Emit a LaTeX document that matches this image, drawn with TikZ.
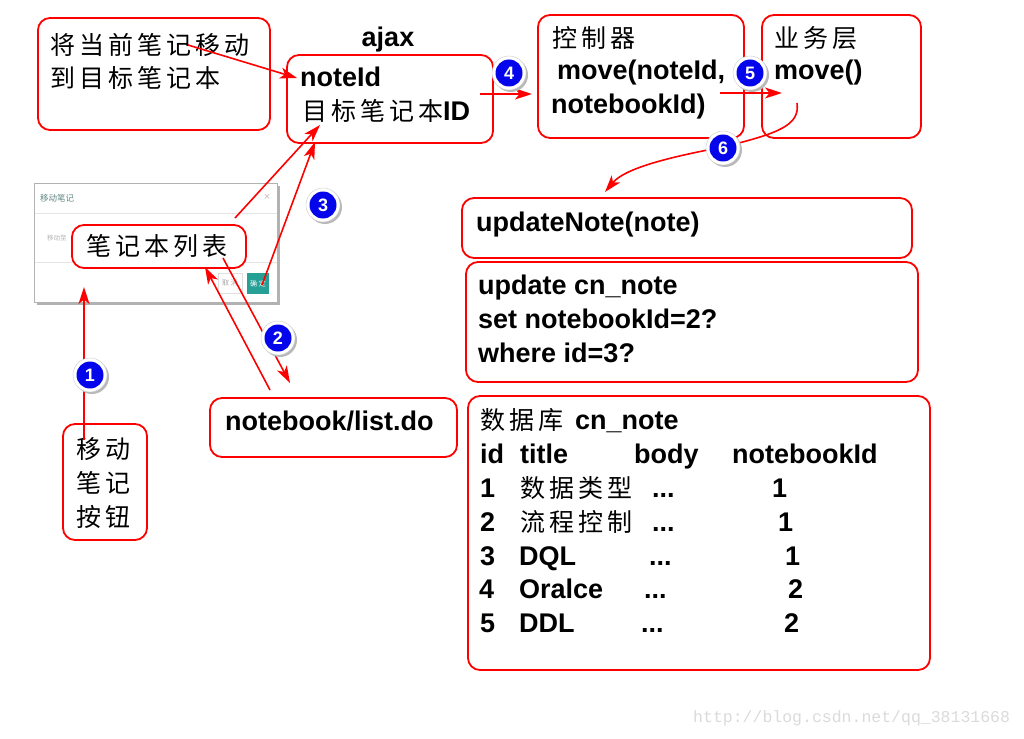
\documentclass[tikz,border=0pt]{standalone}
\usepackage{fontspec}
\setmainfont{Liberation Sans}
\newfontfamily\cjk[LetterSpace=16]{Noto Sans CJK SC}
\newfontfamily\cjkplain{Noto Sans CJK SC}
\newfontfamily\wmfont{Liberation Mono}
\usetikzlibrary{arrows.meta,calc}
\definecolor{dlgteal}{RGB}{38,160,150}
\definecolor{dlgtitle}{RGB}{95,135,130}
\definecolor{badgeblue}{RGB}{5,5,235}
\newcommand\numbadge[3]{%
  \fill[gray!55] ($(#2)+(2,2)$) circle[radius=17];
  \fill[white] (#2) circle[radius=17];
  \draw[gray!40,line width=0.4pt] (#2) circle[radius=17];
  \node[badge] (#1) at (#2) {#3};}
\begin{document}
\begin{tikzpicture}[x=1pt,y=-1pt,
  box/.style={draw=red,line width=1.8pt,rounded corners=12pt,inner sep=0pt},
  txt/.style={anchor=base west,inner sep=0pt,font=\fontsize{27}{30}\selectfont\bfseries},
  ctxt/.style={anchor=base west,inner sep=0pt,font=\fontsize{25}{30}\selectfont\cjk},
  arr/.style={red,line width=1.6pt,-{Stealth[length=17pt,width=11pt,inset=4.5pt]}},
  badge/.style={circle,fill=badgeblue,minimum size=27pt,inner sep=0pt,text=white,font=\fontsize{18}{18}\selectfont\bfseries}]
\useasboundingbox (0,0) rectangle (1024,738);
\fill[white] (0,0) rectangle (1024,738);

% dialog screenshot
\fill[gray!60] (36.5,185.5) rectangle (279.5,304.5);
\node[draw=gray!60,fill=white,line width=0.8pt,minimum width=243pt,minimum height=119pt,inner sep=0pt] (dlg) at (155.5,242.5) {};
\node[anchor=west,inner sep=0pt,text=dlgtitle,font=\fontsize{8.5}{8.5}\selectfont\cjkplain] (dlgt) at (40,198) {移动笔记};
\node[inner sep=0pt,text=gray!50,font=\fontsize{11}{11}\selectfont] (dlgx) at (267,197) {×};
\draw[gray!20,line width=0.8pt] (34.5,213) -- (276.5,213);
\draw[gray!20,line width=0.8pt] (34.5,262) -- (276.5,262);
\node[anchor=west,inner sep=0pt,text=gray!60,font=\fontsize{6.5}{6.5}\selectfont\cjkplain] (dlgm) at (47,238) {移动至};
\node[draw=gray!25,fill=white,minimum width=24pt,minimum height=20pt,inner sep=0pt,text=gray!70,font=\fontsize{7}{7}\selectfont\cjkplain] (cancel) at (230,283) {取 消};
\node[fill=dlgteal,minimum width=22pt,minimum height=21pt,inner sep=0pt,text=white,font=\fontsize{7}{7}\selectfont\cjkplain] (ok) at (258,283.5) {确 定};

% boxes
\node[box,minimum width=232pt,minimum height=112pt] (A) at (154,74) {};
\node[box,minimum width=206pt,minimum height=88pt] (B) at (390,99) {};
\node[box,minimum width=206pt,minimum height=123pt] (C) at (641,76.5) {};
\node[box,minimum width=159pt,minimum height=123pt] (D) at (841.5,76.5) {};
\node[box,minimum width=450pt,minimum height=60pt] (E) at (687,228) {};
\node[box,minimum width=452pt,minimum height=120pt] (F) at (692,322) {};
\node[box,minimum width=247pt,minimum height=59pt] (G) at (333.5,427.5) {};
\node[box,minimum width=462pt,minimum height=274pt] (H) at (699,533) {};
\node[box,minimum width=84pt,minimum height=116pt] (I) at (105,482) {};
\node[box,fill=white,minimum width=174pt,minimum height=43pt] (J) at (159,246.5) {};

% texts
\node[ctxt] (a1t) at (50,54.5) {将当前笔记移动};
\node[ctxt] (a2t) at (50,87.5) {到目标笔记本};
\node[txt,anchor=base] (ajax) at (388,47) {ajax};
\node[txt] (b1t) at (300,87) {noteId};
\node[txt] (b2t) at (302,121) {{\cjk\mdseries\fontsize{25}{30}\selectfont 目标笔记本}ID};
\node[ctxt] (c1t) at (552,48) {控制器};
\node[txt] (c2t) at (557,80) {move(noteId,};
\node[txt] (c3t) at (551,114) {notebookId)};
\node[ctxt] (d1t) at (774,48) {业务层};
\node[txt] (d2t) at (774,80) {move()};
\node[txt] (e1t) at (476,231) {updateNote(note)};
\node[txt] (f1t) at (478,294) {update cn\_note};
\node[txt] (f2t) at (478,328) {set notebookId=2?};
\node[txt] (f3t) at (478,362) {where id=3?};
\node[txt] (g1t) at (225,430) {notebook/list.do};
\node[ctxt] (i1t) at (76,458.5) {移动};
\node[ctxt] (i2t) at (76,492.5) {笔记};
\node[ctxt] (i3t) at (76,526.5) {按钮};
\node[ctxt,anchor=center] (j1t) at (157,246) {笔记本列表};

% database table
\node[ctxt] (h0a) at (480,429) {数据库};
\node[txt] (h0b) at (575,429) {cn\_note};
\node[txt] (h1a) at (480,463) {id};
\node[txt] (h1b) at (520,463) {title};
\node[txt] (h1c) at (634,463) {body};
\node[txt] (h1d) at (732,463) {notebookId};
\node[txt] (r1a) at (480,497) {1};
\node[ctxt] (r1b) at (520,497) {数据类型};
\node[txt] (r1c) at (652,497) {...};
\node[txt] (r1d) at (772,497) {1};
\node[txt] (r2a) at (480,531) {2};
\node[ctxt] (r2b) at (520,531) {流程控制};
\node[txt] (r2c) at (652,531) {...};
\node[txt] (r2d) at (778,531) {1};
\node[txt] (r3a) at (480,565) {3};
\node[txt] (r3b) at (519,565) {DQL};
\node[txt] (r3c) at (649,565) {...};
\node[txt] (r3d) at (785,565) {1};
\node[txt] (r4a) at (479,598) {4};
\node[txt] (r4b) at (519,598) {Oralce};
\node[txt] (r4c) at (644,598) {...};
\node[txt] (r4d) at (788,598) {2};
\node[txt] (r5a) at (480,632) {5};
\node[txt] (r5b) at (519,632) {DDL};
\node[txt] (r5c) at (641,632) {...};
\node[txt] (r5d) at (784,632) {2};

% watermark
\node[anchor=west,inner sep=0pt,text=gray!28,font=\fontsize{16.5}{17}\selectfont\wmfont] (wm) at (693,718) {http://blog.csdn.net/qq\_38131668};

% arrow endpoints
\coordinate (pa1) at (188,45);   \coordinate (pa2) at (297,78);
\coordinate (pb1) at (480,94);   \coordinate (pb2) at (532,94);
\coordinate (pc1) at (720,93);   \coordinate (pc2) at (782,93);
\coordinate (pd1) at (797,103);  \coordinate (pd2) at (723,147); \coordinate (pd3) at (605,192);
\coordinate (pe1) at (235,218);  \coordinate (pe2) at (320,125);
\coordinate (pf1) at (262,285);  \coordinate (pf2) at (315,142);
\coordinate (pg1) at (223,258);  \coordinate (pg2) at (290,383);
\coordinate (ph1) at (270,390);  \coordinate (ph2) at (205,267);
\coordinate (pi1) at (84,440);   \coordinate (pi2) at (84,287);

\draw[arr] (pa1) -- (pa2);
\draw[arr] (pb1) -- (pb2);
\draw[arr] (pc1) -- (pc2);
\draw[arr] (pd1) .. controls (800,125) and (780,133) .. (pd2) .. controls (670,157) and (625,168) .. (pd3);
\draw[arr] (pe1) -- (pe2);
\draw[arr] (pf1) -- (pf2);
\draw[arr] (pg1) -- (pg2);
\draw[arr] (ph1) -- (ph2);
\draw[arr] (pi1) -- (pi2);

% badges
\coordinate (c1) at (90,375);
\coordinate (c2) at (278,338);
\coordinate (c3) at (323,205);
\coordinate (c4) at (509,73);
\coordinate (c5) at (750,73);
\coordinate (c6) at (723,148);
\numbadge{n1}{c1}{1}
\numbadge{n2}{c2}{2}
\numbadge{n3}{c3}{3}
\numbadge{n4}{c4}{4}
\numbadge{n5}{c5}{5}
\numbadge{n6}{c6}{6}
\end{tikzpicture}
\end{document}
